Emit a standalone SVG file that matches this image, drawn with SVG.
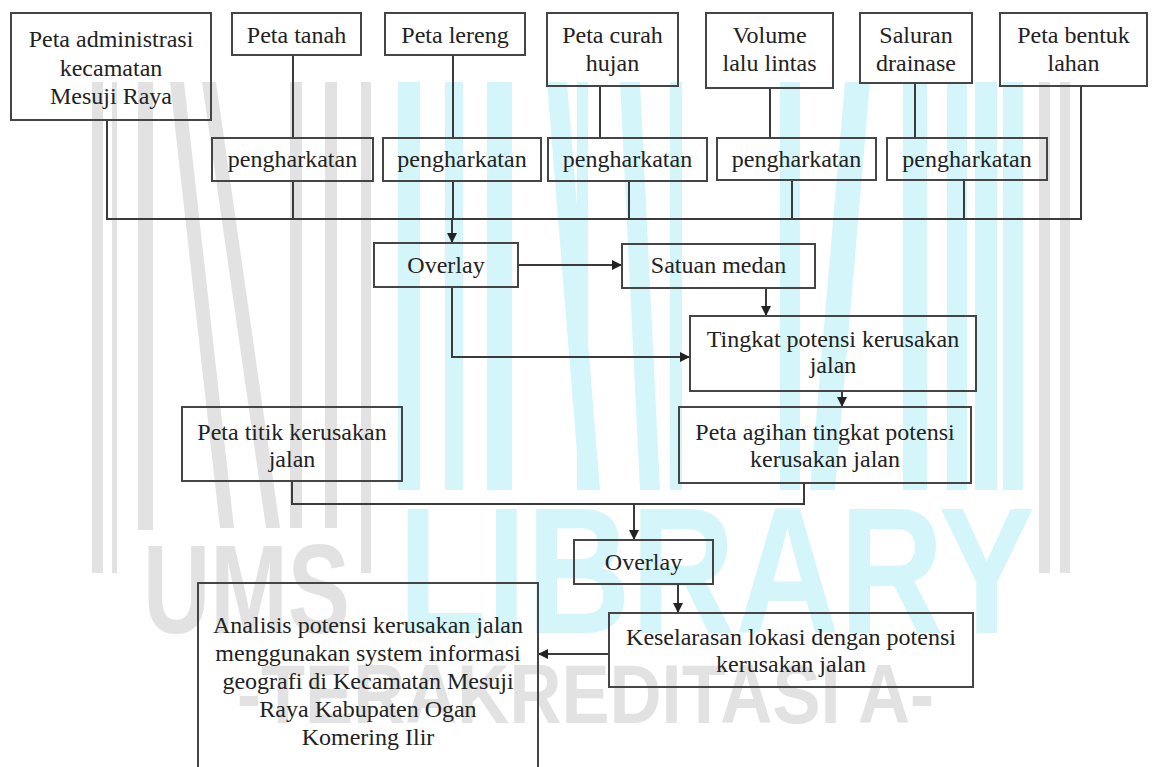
<svg xmlns="http://www.w3.org/2000/svg" width="1161" height="767" viewBox="0 0 1161 767">
<style>
.box{fill:none;stroke:#454545;stroke-width:2}
.t{font-family:"Liberation Serif","Times New Roman",serif;font-size:24px;fill:#222;text-anchor:middle}
.c{fill:none;stroke:#3a3a3a;stroke-width:2}
.a{fill:none;stroke:#3a3a3a;stroke-width:2;marker-end:url(#ah)}
.g{fill:#e2e2e2}
.y{fill:#d4f6fb}
.wm{font-family:"Liberation Sans",Arial,sans-serif;font-weight:bold}
</style>
<defs>
<marker id="ah" viewBox="0 0 10 10" refX="10" refY="5" markerWidth="5" markerHeight="5" orient="auto" markerUnits="strokeWidth">
<path d="M0,0 L10,5 L0,10 z" fill="#222"/>
</marker>
</defs>
<rect width="1161" height="767" fill="#fff"/>
<g id="watermark">
<rect class="g" x="92" y="82" width="11" height="491"/>
<rect class="g" x="112" y="82" width="5" height="491"/>
<rect class="g" x="138" y="82" width="15" height="448"/>
<polygon class="g" points="170,82 184,82 234,528 220,528"/>
<polygon class="g" points="202,82 216,82 280,528 266,528"/>
<rect class="g" x="290" y="82" width="12" height="446"/>
<rect class="g" x="325" y="82" width="12" height="446"/>
<rect class="g" x="361" y="82" width="10" height="491"/>
<rect class="g" x="1039" y="82" width="11" height="491"/>
<rect class="g" x="1060" y="82" width="10" height="491"/>
<rect class="y" x="398" y="82" width="22" height="408"/>
<rect class="y" x="445" y="82" width="18" height="408"/>
<rect class="y" x="487" y="82" width="25" height="408"/>
<polygon class="y" points="547,82 567,82 600,490 580,490"/>
<rect class="y" x="577" y="82" width="11" height="408"/>
<polygon class="y" points="620,82 640,82 660,490 640,490"/>
<rect class="y" x="670" y="82" width="12" height="408"/>
<rect class="y" x="780" y="82" width="20" height="408"/>
<polygon class="y" points="845,82 870,82 835,490 810,490"/>
<rect class="y" x="903" y="82" width="24" height="408"/>
<rect class="y" x="947" y="82" width="20" height="408"/>
<rect class="y" x="975" y="82" width="22" height="408"/>
<rect class="y" x="1003" y="82" width="20" height="408"/>
<text class="wm" x="143" y="633" font-size="126" fill="#e2e2e2" textLength="207" lengthAdjust="spacingAndGlyphs">UMS</text>
<text class="wm" x="398" y="633" font-size="180" fill="#d4f6fb" textLength="637" lengthAdjust="spacingAndGlyphs">LIBRARY</text>
<text class="wm" x="237" y="723" font-size="84" fill="#e2e2e2" textLength="697" lengthAdjust="spacingAndGlyphs">-TERAKREDITASI A-</text>
</g>
<g id="connectors">
<path class="c" d="M107,120 V219 H1081 V86"/>
<path class="c" d="M293,55 V138 M293,181 V219"/>
<path class="c" d="M453,55 V138 M453,181 V219"/>
<path class="c" d="M600,86 V138 M629,181 V219"/>
<path class="c" d="M770,88 V138 M792,180 V219"/>
<path class="c" d="M915,83 V138 M964,180 V219"/>
<path class="a" d="M452,219 V243"/>
<path class="a" d="M518,265 H622"/>
<path class="a" d="M766,288 V316"/>
<path class="a" d="M452,287 V357 H690"/>
<path class="a" d="M842,391 V407"/>
<path class="c" d="M292,481 V504 H804 V483"/>
<path class="a" d="M634,504 V540"/>
<path class="a" d="M678,584 V613"/>
<path class="a" d="M609,654 H538"/>
</g>
<g id="n-adm"><rect class="box" x="11" y="13" width="200" height="107"/><text class="t" x="111" y="47">Peta administrasi</text><text class="t" x="111" y="76">kecamatan</text><text class="t" x="111" y="104">Mesuji Raya</text></g>
<g id="n-tanah"><rect class="box" x="232" y="13" width="129" height="42"/><text class="t" x="296.5" y="43">Peta tanah</text></g>
<g id="n-lereng"><rect class="box" x="385" y="13" width="140" height="42"/><text class="t" x="455" y="43">Peta lereng</text></g>
<g id="n-curah"><rect class="box" x="547" y="13" width="131" height="73"/><text class="t" x="612.5" y="43">Peta curah</text><text class="t" x="612.5" y="71">hujan</text></g>
<g id="n-volume"><rect class="box" x="706" y="13" width="127" height="75"/><text class="t" x="769.5" y="43">Volume</text><text class="t" x="769.5" y="71">lalu lintas</text></g>
<g id="n-saluran"><rect class="box" x="860" y="13" width="112" height="70"/><text class="t" x="916" y="43">Saluran</text><text class="t" x="916" y="71">drainase</text></g>
<g id="n-bentuk"><rect class="box" x="1000" y="13" width="147" height="73"/><text class="t" x="1073.5" y="43">Peta bentuk</text><text class="t" x="1073.5" y="71">lahan</text></g>
<g id="n-pengh1"><rect class="box" x="212" y="138" width="161" height="43"/><text class="t" x="292.5" y="167">pengharkatan</text></g>
<g id="n-pengh2"><rect class="box" x="383" y="138" width="158" height="43"/><text class="t" x="462" y="167">pengharkatan</text></g>
<g id="n-pengh3"><rect class="box" x="548" y="138" width="159" height="43"/><text class="t" x="627.5" y="167">pengharkatan</text></g>
<g id="n-pengh4"><rect class="box" x="717" y="138" width="159" height="42"/><text class="t" x="796.5" y="167">pengharkatan</text></g>
<g id="n-pengh5"><rect class="box" x="887" y="138" width="160" height="42"/><text class="t" x="967" y="167">pengharkatan</text></g>
<g id="n-overlay1"><rect class="box" x="374" y="243" width="144" height="44"/><text class="t" x="446" y="273">Overlay</text></g>
<g id="n-satuan"><rect class="box" x="622" y="244" width="193" height="44"/><text class="t" x="718.5" y="273">Satuan medan</text></g>
<g id="n-tingkat"><rect class="box" x="690" y="316" width="286" height="75"/><text class="t" x="833" y="347">Tingkat potensi kerusakan</text><text class="t" x="833" y="373">jalan</text></g>
<g id="n-agihan"><rect class="box" x="679" y="407" width="292" height="76"/><text class="t" x="825" y="440">Peta agihan tingkat potensi</text><text class="t" x="825" y="467">kerusakan jalan</text></g>
<g id="n-titik"><rect class="box" x="182" y="407" width="220" height="74"/><text class="t" x="292" y="440">Peta titik kerusakan</text><text class="t" x="292" y="467">jalan</text></g>
<g id="n-overlay2"><rect class="box" x="574" y="540" width="139" height="44"/><text class="t" x="643.5" y="570">Overlay</text></g>
<g id="n-keselarasan"><rect class="box" x="609" y="613" width="364" height="74"/><text class="t" x="791" y="645">Keselarasan lokasi dengan potensi</text><text class="t" x="791" y="672">kerusakan jalan</text></g>
<g id="n-analisis"><rect class="box" x="198" y="583" width="340" height="200"/><text class="t" x="368" y="633">Analisis potensi kerusakan jalan</text><text class="t" x="368" y="661">menggunakan system informasi</text><text class="t" x="368" y="689">geografi di Kecamatan Mesuji</text><text class="t" x="368" y="717">Raya Kabupaten Ogan</text><text class="t" x="368" y="745">Komering Ilir</text></g>
</svg>
